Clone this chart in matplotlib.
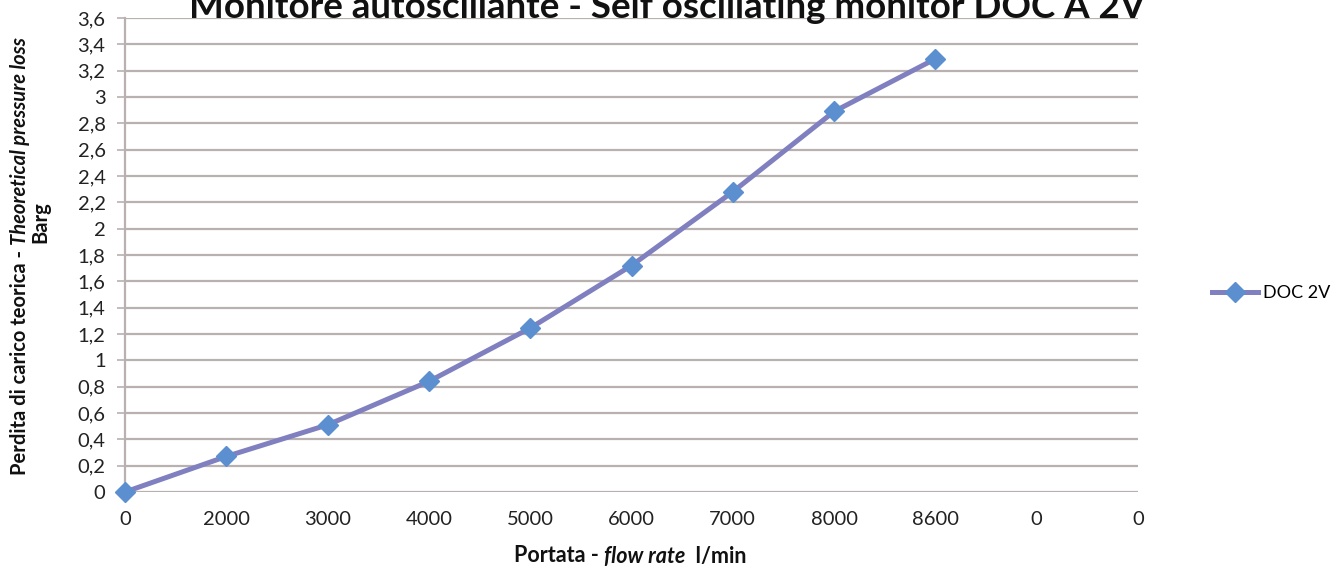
import matplotlib
matplotlib.use("Agg")
import matplotlib.pyplot as plt
from matplotlib.ticker import FixedLocator, FuncFormatter

categories = ["0", "2000", "3000", "4000", "5000", "6000", "7000", "8000", "8600", "0", "0"]
doc_2v = [0.0, 0.27, 0.51, 0.84, 1.245, 1.72, 2.28, 2.89, 3.29]
y_ticks = [round(0.2 * i, 1) for i in range(19)]

FONT = "Lato"
LINE_C = "#8080c0"
MARK_C = "#5b8fd0"
GRID_C = "#b9b0b0"

fig = plt.figure(figsize=(13.4, 5.86), dpi=100)
ax = fig.add_axes([125 / 1340, 1 - 492 / 586, (1138 - 125) / 1340, (492 - 18) / 586])

x = list(range(len(doc_2v)))
ax.plot(x, doc_2v, color=LINE_C, lw=3.6, marker="D", markersize=10,
        markerfacecolor=MARK_C, markeredgecolor=MARK_C, label="DOC 2V", zorder=3,
        solid_joinstyle="round", clip_on=False)

ax.set_xlim(0, len(categories) - 1)
ax.set_ylim(0, 3.6)
ax.set_xticks(range(len(categories)))
ax.set_xticklabels(categories, fontname=FONT, fontsize=14.5)
ax.yaxis.set_major_locator(FixedLocator(y_ticks))
ax.yaxis.set_major_formatter(FuncFormatter(lambda v, p: ("%g" % round(v, 1)).replace(".", ",")))
for lab in ax.get_yticklabels():
    lab.set_fontname(FONT)
    lab.set_fontsize(14.5)
ax.tick_params(axis="x", length=0, pad=14, colors="#222222")
ax.tick_params(axis="y", length=6, width=1.2, pad=8, colors="#222222", direction="out")
ax.tick_params(axis="y", color=GRID_C)
ax.grid(axis="y", color=GRID_C, lw=1.6)
ax.set_axisbelow(True)
for s in ["top", "right", "bottom"]:
    ax.spines[s].set_visible(False)
ax.spines["left"].set_color(GRID_C)
ax.spines["left"].set_linewidth(1.6)

# Title (partly cut at top like the reference)
fig.text(667 / 1340, 1 - 7 / 586, "Monitore autoscillante - Self oscillating monitor DOC A 2V",
         ha="center", va="center", fontname=FONT, fontweight="bold", fontsize=26.5, color="#111111")

# Legend
leg = fig.legend(loc="center left", bbox_to_anchor=(1212 / 1340, 1 - 293 / 586), frameon=False,
                 prop={"family": FONT, "size": 13}, handlelength=2.55, handletextpad=0.3,
                 borderpad=0, borderaxespad=0)

fig.canvas.draw()
renderer = fig.canvas.get_renderer()


def seq_text(segments, cx, cy, rotation, **kw):
    """Lay out text segments with different styles along a line, centred at (cx, cy) in pixels."""
    objs = []
    for txt, style in segments:
        t = fig.text(0, 0, txt, fontname=FONT, fontweight="bold", fontstyle=style,
                     rotation=rotation, ha="left", va="center", **kw)
        objs.append(t)
    fig.canvas.draw()
    sizes = []
    for t in objs:
        bb = t.get_window_extent(renderer)
        sizes.append(bb.height if rotation == 90 else bb.width)
    total = sum(sizes)
    pos = (cy if rotation == 90 else cx) - total / 2
    H = fig.bbox.height
    W = fig.bbox.width
    for t, s in zip(objs, sizes):
        if rotation == 90:
            t.set_ha("center")
            t.set_va("bottom")
            t.set_position((cx / W, pos / H))
        else:
            t.set_ha("left")
            t.set_position((pos / W, cy / H))
        pos += s


H = 586
seq_text([("Perdita di carico teorica - ", "normal"), ("Theoretical pressure loss", "italic")],
         20, H - 256, 90, fontsize=14.5, color="#111111")
fig.text(40 / 1340, 1 - 222 / 586, "Barg", rotation=90, ha="center", va="center",
         fontname=FONT, fontweight="bold", fontsize=14.5, color="#111111")
seq_text([("Portata - ", "normal"), ("flow rate", "italic"), ("  l/min", "normal")],
         630, H - 556, 0, fontsize=15.5, color="#111111")

fig.savefig("out.png", dpi=100)
